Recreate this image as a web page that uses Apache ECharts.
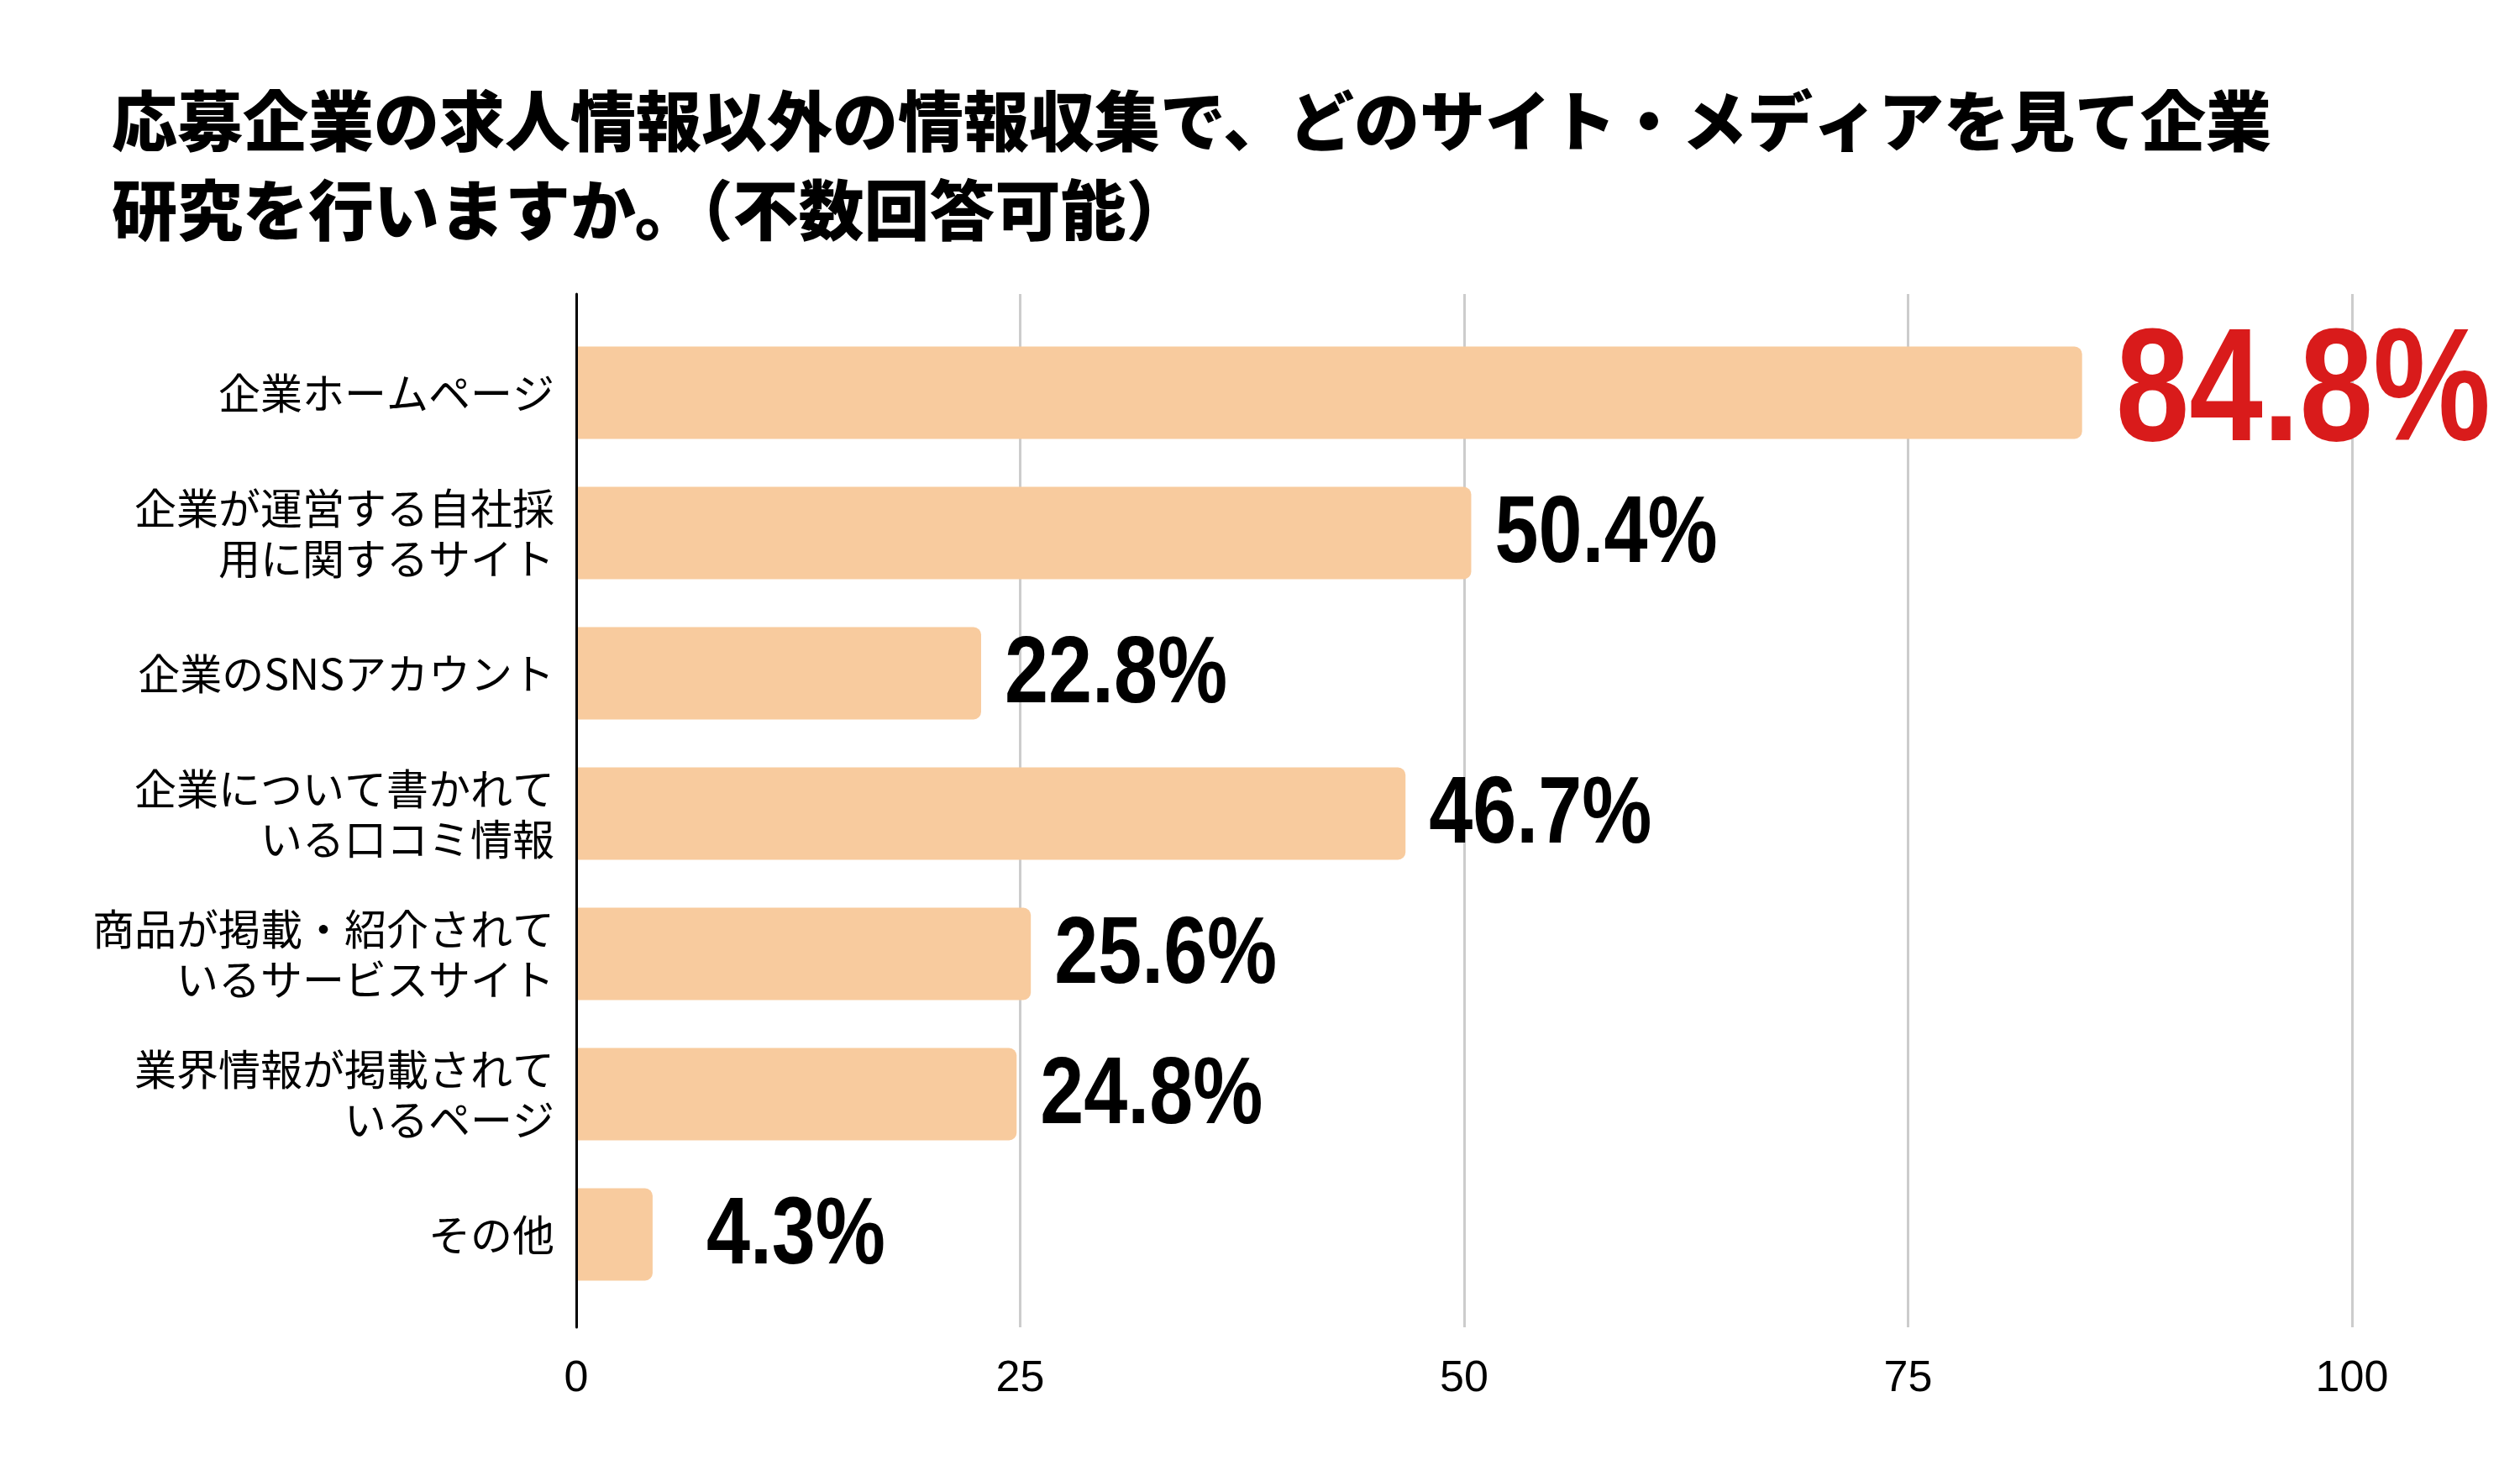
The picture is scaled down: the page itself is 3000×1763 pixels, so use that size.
<!DOCTYPE html>
<html>
<head>
<meta charset="utf-8">
<script src="https://cdn.jsdelivr.net/npm/echarts@6/dist/echarts.min.js"></script>
<style>
html,body{margin:0;padding:0;background:#fff;}
#chart{width:3000px;height:1763px;}
</style>
</head>
<body>
<div id="chart"></div>
<script>
const titleText = '応募企業の求人情報以外の情報収集で、どのサイト・メディアを見て企業\n研究を行いますか。（不数回答可能）';
const categories = [
  '企業ホームページ',
  '企業が運営する自社採\n用に関するサイト',
  '企業のSNSアカウント',
  '企業について書かれて\nいる口コミ情報',
  '商品が掲載・紹介されて\nいるサービスサイト',
  '業界情報が掲載されて\nいるページ',
  'その他'
];
const values = [84.8, 50.4, 22.8, 46.7, 25.6, 24.8, 4.3];
const xTicks = [0, 25, 50, 75, 100];

const maxVal = Math.max(...values);

const chart = echarts.init(document.getElementById('chart'), null, {renderer: 'canvas'});
chart.setOption({
  backgroundColor: '#ffffff',
  animation: false,
  title: {
    text: titleText,
    left: 128,
    top: 86,
    textStyle: {
      fontFamily: "'Noto Sans CJK JP', sans-serif",
      fontWeight: 900,
      fontSize: 78,
      lineHeight: 106,
      color: '#000'
    }
  },
  grid: [
    {left: 686, right: 200, top: 350, bottom: 183},
    {left: 686, right: 200, top: 384, bottom: 210}
  ],
  xAxis: [
    {
      gridIndex: 0, type: 'value', min: xTicks[0], max: xTicks[xTicks.length - 1], interval: 25,
      axisLine: {show: false}, axisTick: {show: false},
      axisLabel: {
        margin: 36, fontSize: 52, color: '#000',
        fontFamily: "'Liberation Sans', Arial, sans-serif"
      },
      splitLine: {show: true, lineStyle: {color: '#CCCCCC', width: 3}}
    },
    {
      gridIndex: 1, type: 'value', min: 0, max: 100, show: false
    }
  ],
  yAxis: [
    {
      gridIndex: 0, type: 'value', min: 0, max: 1, z: 5,
      axisLine: {show: true, lineStyle: {color: '#000', width: 3}},
      axisTick: {show: false}, axisLabel: {show: false}, splitLine: {show: false}
    },
    {
      gridIndex: 1, type: 'category', data: categories, inverse: true,
      axisLine: {show: false}, axisTick: {show: false},
      axisLabel: {
        margin: 26, fontSize: 50, lineHeight: 60, color: '#000',
        fontFamily: "'Noto Sans CJK JP', sans-serif", align: 'right'
      }
    }
  ],
  series: [
    {
      type: 'bar',
      xAxisIndex: 1, yAxisIndex: 1,
      data: values,
      barWidth: 110,
      itemStyle: {color: '#F8CB9E', borderRadius: [0, 9, 9, 0]}
    },
    {
      type: 'custom',
      xAxisIndex: 1, yAxisIndex: 1,
      data: values.map((v, i) => [v, i]),
      z: 5,
      renderItem: function (params, api) {
        const v = api.value(0);
        const p = api.coord([v, api.value(1)]);
        const top = v === maxVal;
        const size = top ? 192 : 114;
        const gap = v < 10 ? 64 : (top ? 40 : 28);
        return {
          type: 'text',
          x: p[0] + gap,
          y: p[1] + (top ? 4 : 3),
          scaleX: 0.82,
          style: {
            text: v + '%',
            fontFamily: "'Liberation Sans', Arial, sans-serif",
            fontWeight: 'bold',
            fontSize: size,
            fill: top ? '#D91B1B' : '#000000',
            align: 'left',
            verticalAlign: 'middle'
          }
        };
      }
    }
  ]
});
</script>
</body>
</html>
